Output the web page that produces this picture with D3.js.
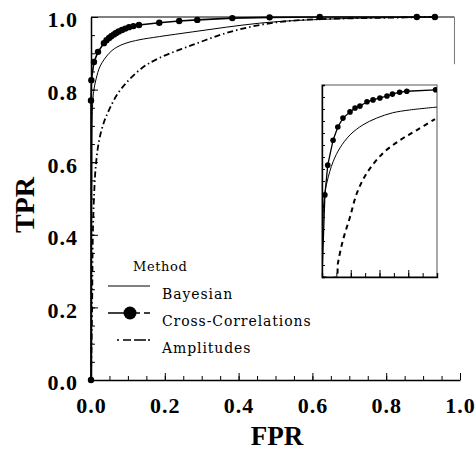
<!DOCTYPE html>
<html>
<head>
<meta charset="utf-8">
<script src="https://cdn.jsdelivr.net/npm/d3@7"></script>
<style>
  body { margin: 0; background: #fff; }
  svg { display: block; }
</style>
</head>
<body>
<svg width="475" height="452"></svg>
<script>
// ---- data ----
const methods = ['Bayesian', 'Cross-Correlations', 'Amplitudes'];
const xTickValues = [0, 0.2, 0.4, 0.6, 0.8, 1.0];
const yTickValues = [0, 0.2, 0.4, 0.6, 0.8, 1.0];

// main panel (FPR, TPR)
const bayesFpr = [0, 0.002, 0.004, 0.008, 0.014, 0.025, 0.049, 0.07, 0.095, 0.13, 0.185, 0.275, 0.367, 0.457, 0.55, 0.7, 0.93];
const bayesTpr = [0, 0.5, 0.75, 0.8, 0.83, 0.865, 0.9, 0.917, 0.928, 0.937, 0.946, 0.959, 0.972, 0.983, 0.99, 0.996, 1.0];

const crossFpr = [0, 0, 0.001, 0.008, 0.019, 0.035, 0.042, 0.049, 0.055, 0.062, 0.068, 0.075, 0.084, 0.093, 0.103, 0.115, 0.13, 0.185, 0.239, 0.288, 0.383, 0.484, 0.62, 0.883, 0.932];
const crossTpr = [0, 0.77, 0.826, 0.876, 0.904, 0.928, 0.936, 0.942, 0.947, 0.952, 0.956, 0.96, 0.964, 0.968, 0.972, 0.975, 0.978, 0.984, 0.989, 0.992, 0.997, 0.999, 1.0, 1.0, 1.0];

const ampFpr = [0, 0.003, 0.005, 0.008, 0.013, 0.022, 0.035, 0.049, 0.07, 0.095, 0.139, 0.185, 0.275, 0.367, 0.457, 0.546, 0.65, 0.8, 0.93];
const ampTpr = [0, 0.2, 0.4, 0.5, 0.59, 0.66, 0.71, 0.744, 0.785, 0.818, 0.86, 0.887, 0.923, 0.956, 0.978, 0.99, 0.995, 0.998, 1.0];

// inset (zoom on the upper-left corner)
const insetBayesFpr = [0, 0.0014, 0.0035, 0.0077, 0.0125, 0.0195, 0.0285, 0.038, 0.049, 0.061, 0.08];
const insetBayesTpr = [0.6, 0.76, 0.798, 0.84, 0.869, 0.896, 0.917, 0.931, 0.942, 0.948, 0.954];

const insetCrossFpr = [0, 0.002, 0.004, 0.0077, 0.011, 0.0146, 0.0195, 0.023, 0.0264, 0.0313, 0.0355, 0.0403, 0.0452, 0.049, 0.054, 0.059, 0.079];
const insetCrossTpr = [0.6, 0.771, 0.833, 0.885, 0.9125, 0.931, 0.944, 0.952, 0.956, 0.965, 0.969, 0.973, 0.977, 0.981, 0.985, 0.987, 0.99];

const insetAmpFpr = [0, 0.0097, 0.0111, 0.0146, 0.0195, 0.0243, 0.0313, 0.0424, 0.0543, 0.066, 0.0786];
const insetAmpTpr = [0.6, 0.6, 0.629, 0.677, 0.725, 0.775, 0.817, 0.858, 0.885, 0.906, 0.929];

const zip = (a, b) => a.map((v, i) => [v, b[i]]);

const $svg = d3.select('svg');
const serif = '"Liberation Serif", "Times New Roman", serif';

const x = d3.scaleLinear().domain([0, 1]).range([91, 460]);
const y = d3.scaleLinear().domain([0, 1]).range([380, 17]);

const styles = {
  Bayesian: { width: 1, dash: null, smooth: true },
  'Cross-Correlations': { width: 1.6, dash: null, smooth: false },
  Amplitudes: { width: 1.8, dash: '6,3,1.5,3', smooth: true },
};

function drawLines(g, series, xs, ys) {
  g.selectAll('path.curve')
    .data(series)
    .join('path')
    .attr('class', 'curve')
    .attr('fill', 'none')
    .attr('stroke', '#000')
    .attr('stroke-width', d => d.width)
    .attr('stroke-dasharray', d => d.dash)
    .attr('d', d => d3.line()
      .x(p => xs(p[0]))
      .y(p => ys(p[1]))
      .curve(d.smooth ? d3.curveCatmullRom.alpha(0.5) : d3.curveLinear)(d.values));
}

// ---- main panel ----
const main = $svg.append('g');

// minor ticks
main.append('g')
  .attr('transform', `translate(0,${y(0)})`)
  .call(d3.axisBottom(x).tickValues(d3.range(0, 1.001, 0.05)).tickSize(-4).tickFormat(''))
  .call(g => g.select('.domain').remove());
main.append('g')
  .attr('transform', `translate(${x(0)},0)`)
  .call(d3.axisLeft(y).tickValues(d3.range(0, 1.001, 0.05)).tickSize(-4).tickFormat(''))
  .call(g => g.select('.domain').remove());

const xAxis = main.append('g')
  .attr('transform', `translate(0,${y(0)})`)
  .call(d3.axisBottom(x).tickValues(xTickValues).tickFormat(d3.format('.1f'))
    .tickSizeInner(-7).tickSizeOuter(0).tickPadding(17));
const yAxis = main.append('g')
  .attr('transform', `translate(${x(0)},0)`)
  .call(d3.axisLeft(y).tickValues(yTickValues).tickFormat(d3.format('.1f'))
    .tickSizeInner(-7).tickSizeOuter(0).tickPadding(13));

[xAxis, yAxis].forEach(a => {
  a.select('.domain').attr('stroke-width', 1.5);
  a.selectAll('text')
    .attr('font-family', serif)
    .attr('font-weight', 'bold')
    .attr('font-size', 22)
    .attr('letter-spacing', 1)
    .attr('fill', '#000');
});
yAxis.selectAll('text').attr('dy', '0.45em');

// top frame and the short right edge left by the scan
main.append('line')
  .attr('x1', x(0)).attr('x2', x(0.985))
  .attr('y1', y(1)).attr('y2', y(1))
  .attr('stroke', '#000').attr('stroke-width', 1);
main.append('line')
  .attr('x1', x(0.985)).attr('x2', x(0.985))
  .attr('y1', y(1)).attr('y2', y(0.87))
  .attr('stroke', '#777').attr('stroke-width', 1);

const mainSeries = [
  { name: 'Bayesian', values: zip(bayesFpr, bayesTpr) },
  { name: 'Cross-Correlations', values: zip(crossFpr, crossTpr) },
  { name: 'Amplitudes', values: zip(ampFpr, ampTpr) },
].map(s => Object.assign(s, styles[s.name]));

drawLines(main, mainSeries, x, y);

main.selectAll('circle.pt')
  .data(mainSeries[1].values)
  .join('circle')
  .attr('class', 'pt')
  .attr('cx', d => x(d[0]))
  .attr('cy', d => y(d[1]))
  .attr('r', 3.2)
  .attr('fill', '#000');

// axis titles
main.append('text')
  .attr('x', 277).attr('y', 445)
  .attr('text-anchor', 'middle')
  .attr('font-family', serif).attr('font-weight', 'bold').attr('font-size', 27)
  .text('FPR');
main.append('text')
  .attr('transform', 'translate(34,205) rotate(-90)')
  .attr('text-anchor', 'middle')
  .attr('font-family', serif).attr('font-weight', 'bold').attr('font-size', 28)
  .text('TPR');

// ---- legend ----
const legendFont = '"DejaVu Serif", serif';
const legend = $svg.append('g').attr('transform', 'translate(108,266)');
legend.append('text')
  .attr('x', 25).attr('y', 5)
  .attr('font-family', legendFont).attr('font-size', 13).attr('letter-spacing', 0.6)
  .text('Method');

const item = legend.selectAll('g.item')
  .data(mainSeries)
  .join('g')
  .attr('class', 'item')
  .attr('transform', (d, i) => `translate(0,${20 + i * 27})`);
item.append('line')
  .attr('x1', (d, i) => (i === 2 ? 9 : 0)).attr('x2', 42)
  .attr('y1', 0).attr('y2', 0)
  .attr('stroke', '#000')
  .attr('stroke-width', d => Math.min(d.width, 1.4))
  .attr('stroke-dasharray', (d, i) => (i === 1 ? '32,4,8' : i === 2 ? '2,4,8,3,12' : null));
item.filter((d, i) => i === 1).append('circle')
  .attr('cx', 22).attr('cy', 0).attr('r', 6.5).attr('fill', '#000');
item.append('text')
  .attr('x', 54).attr('y', 13)
  .attr('font-family', legendFont).attr('font-size', 14).attr('letter-spacing', 0.9)
  .text(d => d.name);

// ---- inset ----
const ix = d3.scaleLinear().domain([0, 0.08]).range([322, 437]);
const iy = d3.scaleLinear().domain([0.6, 1.0]).range([277, 85]);

const inset = $svg.append('g');
inset.append('clipPath').attr('id', 'inset-clip')
  .append('rect')
  .attr('x', ix(0)).attr('y', iy(1))
  .attr('width', ix(0.08) - ix(0)).attr('height', iy(0.6) - iy(1));

inset.append('rect')
  .attr('x', ix(0)).attr('y', iy(1))
  .attr('width', ix(0.08) - ix(0)).attr('height', iy(0.6) - iy(1))
  .attr('fill', '#fff').attr('stroke', '#555').attr('stroke-width', 1);

inset.append('g')
  .attr('transform', `translate(0,${iy(0.6)})`)
  .call(d3.axisBottom(ix).tickValues(d3.range(0.01, 0.08, 0.01))
    .tickSize(-4).tickFormat(''))
  .call(g => g.select('.domain').attr('stroke-width', 1.4));
inset.append('g')
  .attr('transform', `translate(0,${iy(0.6)})`)
  .call(d3.axisBottom(ix).tickValues([0.02, 0.04, 0.06])
    .tickSize(-7).tickFormat(''))
  .call(g => g.select('.domain').remove());
inset.append('g')
  .attr('transform', `translate(${ix(0)},0)`)
  .call(d3.axisLeft(iy).tickValues(d3.range(0.625, 1.0, 0.025))
    .tickSize(-3).tickFormat(''))
  .call(g => g.select('.domain').attr('stroke-width', 1.4));

const insetSeries = [
  { name: 'Bayesian', values: zip(insetBayesFpr, insetBayesTpr), width: 1, dash: null, smooth: true },
  { name: 'Cross-Correlations', values: zip(insetCrossFpr, insetCrossTpr), width: 1.3, dash: null, smooth: false },
  { name: 'Amplitudes', values: zip(insetAmpFpr, insetAmpTpr), width: 2, dash: '5,4', smooth: true },
];
const insetPlot = inset.append('g').attr('clip-path', 'url(#inset-clip)');
drawLines(insetPlot, insetSeries, ix, iy);
insetPlot.selectAll('circle.pt')
  .data(insetSeries[1].values.filter(d => d[1] > 0.7))
  .join('circle')
  .attr('class', 'pt')
  .attr('cx', d => ix(d[0]))
  .attr('cy', d => iy(d[1]))
  .attr('r', 2.8)
  .attr('fill', '#000');
</script>
</body>
</html>
